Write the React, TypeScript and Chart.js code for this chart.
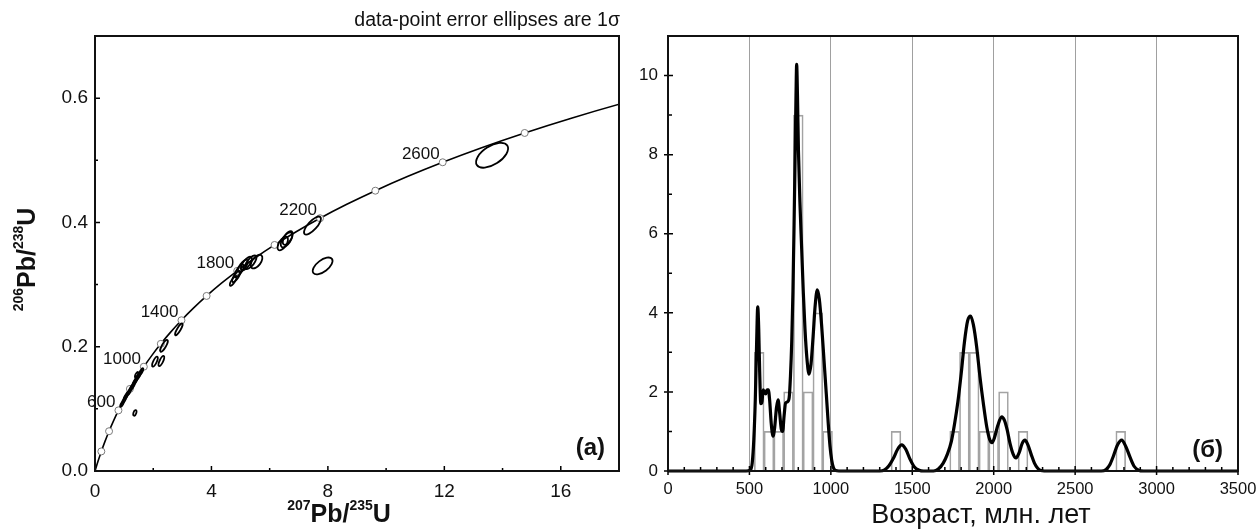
import React, { useEffect, useRef } from 'react';
import { Chart, registerables } from 'chart.js';

Chart.register(...registerables);

const FONT = '"Liberation Sans", Arial, sans-serif';

// ---------- Left panel: concordia diagram ----------
const concordiaAge = [0, 100, 200, 300, 400, 500, 600, 700, 800, 900, 1000, 1100, 1200, 1300, 1400, 1500, 1600, 1700, 1800, 1900, 2000, 2100, 2200, 2300, 2400, 2500, 2600, 2700, 2800, 2900, 3000, 3100];
const concordiaPb207U235 = [0, 0.1035, 0.2177, 0.3437, 0.4828, 0.6363, 0.8056, 0.9925, 1.1987, 1.4264, 1.6774, 1.9546, 2.2603, 2.5977, 2.97, 3.3809, 3.8344, 4.3347, 4.8869, 5.4961, 6.1685, 6.9104, 7.7291, 8.6325, 9.6296, 10.7305, 11.9438, 13.283, 14.7607, 16.391, 18.1906, 20.1796];
const concordiaPb206U238 = [0, 0.01563, 0.03151, 0.04764, 0.06401, 0.08065, 0.09754, 0.1147, 0.13213, 0.14982, 0.16781, 0.18607, 0.20461, 0.22344, 0.24257, 0.26199, 0.28172, 0.30176, 0.32211, 0.34278, 0.36377, 0.38509, 0.40675, 0.42874, 0.45107, 0.47376, 0.4968, 0.5202, 0.54397, 0.5681, 0.59262, 0.61752];
const markerAges = [200, 400, 600, 800, 1000, 1200, 1400, 1600, 1800, 2000, 2200, 2400, 2600, 2800];
const labelAges = [600, 1000, 1400, 1800, 2200, 2600];

const ellipseX = [13.64, 7.82, 7.47, 6.45, 6.58, 6.62, 5.55, 5.35, 5.2, 5.08, 4.95, 4.85, 4.75, 2.88, 2.37, 2.06, 2.28, 0.93, 1.0, 1.05, 1.1, 1.17, 1.24, 1.3, 1.35, 1.4, 1.45, 1.5, 1.55, 1.6, 1.43, 1.37];
const ellipseY = [0.508, 0.33, 0.395, 0.366, 0.372, 0.375, 0.337, 0.336, 0.334, 0.33, 0.322, 0.313, 0.306, 0.228, 0.2015, 0.176, 0.177, 0.108, 0.114, 0.119, 0.123, 0.127, 0.133, 0.137, 0.142, 0.146, 0.15, 0.153, 0.157, 0.161, 0.155, 0.0935];
const ellipseSX = [0.55, 0.34, 0.29, 0.18, 0.2, 0.17, 0.2, 0.2, 0.19, 0.17, 0.16, 0.14, 0.12, 0.13, 0.13, 0.1, 0.1, 0.06, 0.06, 0.06, 0.06, 0.06, 0.06, 0.06, 0.06, 0.06, 0.06, 0.06, 0.06, 0.06, 0.06, 0.055];
const ellipseSY = [0.02, 0.0135, 0.0145, 0.011, 0.012, 0.011, 0.011, 0.011, 0.011, 0.01, 0.01, 0.009, 0.008, 0.0095, 0.0095, 0.008, 0.008, 0.0045, 0.0045, 0.0045, 0.0045, 0.0045, 0.0045, 0.0045, 0.0045, 0.0045, 0.0045, 0.0045, 0.0045, 0.0045, 0.0045, 0.0045];
const ellipseRho = [0.55, 0.6, 0.75, 0.6, 0.6, 0.6, 0.55, 0.7, 0.7, 0.7, 0.75, 0.75, 0.8, 0.85, 0.8, 0.75, 0.75, 0.7, 0.7, 0.7, 0.7, 0.7, 0.7, 0.7, 0.7, 0.7, 0.7, 0.7, 0.7, 0.7, 0.7, 0.4];

const leftXTickLabels = [0, 4, 8, 12, 16];
const leftYTickLabels = [0, 0.2, 0.4, 0.6];

// ---------- Right panel: age histogram + density ----------
const binCenters = [560, 620, 680, 740, 800, 860, 920, 980, 1400, 1760, 1820, 1880, 1940, 2000, 2060, 2180, 2780];
const binCounts = [3, 1, 1, 2, 9, 2, 4, 1, 1, 1, 3, 3, 1, 1, 2, 1, 1];

const kdeAge = [0, 480, 505, 517, 527, 536, 544, 551, 557, 563, 570, 577, 584, 592, 600, 608, 616, 624, 634, 645, 655, 666, 676, 686, 696, 704, 713, 722, 734, 744, 752, 760, 767, 774, 781, 786, 790, 795, 801, 810, 821, 831, 841, 853, 866, 878, 891, 904, 917, 929, 943, 958, 972, 984, 995, 1005, 1016, 1030, 1050, 1300, 1330, 1358, 1384, 1410, 1435, 1460, 1486, 1513, 1542, 1570, 1630, 1660, 1690, 1715, 1740, 1760, 1780, 1800, 1820, 1840, 1858, 1875, 1895, 1915, 1936, 1958, 1975, 1990, 2005, 2025, 2049, 2066, 2082, 2100, 2120, 2137, 2155, 2175, 2192, 2210, 2230, 2250, 2270, 2290, 2310, 2660, 2690, 2712, 2735, 2760, 2786, 2811, 2837, 2862, 2890, 2920, 3500];
const kdeValue = [0, 0, 0.02, 0.2, 0.8, 1.8, 3.2, 4.15, 3.6, 2.5, 1.7, 1.75, 2.05, 2.0, 1.95, 2.05, 2.05, 1.8, 1.2, 0.88, 1.1, 1.6, 1.8, 1.45, 1.05, 1.0, 1.4, 1.72, 1.75, 1.85, 2.4, 3.3, 4.5, 6.2, 8.1, 9.5, 10.28, 9.5, 8.1, 6.8, 5.6, 4.5, 3.6, 2.85, 2.45, 2.7, 3.4, 4.2, 4.58, 4.35, 3.7, 2.8, 1.95, 1.2, 0.62, 0.28, 0.08, 0.01, 0, 0, 0.03, 0.14, 0.32, 0.55, 0.66, 0.55, 0.3, 0.1, 0.02, 0, 0, 0.05, 0.2, 0.42, 0.75, 1.2, 1.75, 2.45, 3.25, 3.8, 3.92, 3.7, 3.15, 2.4, 1.72, 1.1, 0.8, 0.72, 0.85, 1.15, 1.37, 1.28, 1.05, 0.7, 0.42, 0.33, 0.45, 0.7, 0.78, 0.66, 0.42, 0.2, 0.07, 0.01, 0, 0, 0.04, 0.15, 0.38, 0.66, 0.78, 0.62, 0.35, 0.12, 0.02, 0, 0];

const rightXTickLabels = [0, 500, 1000, 1500, 2000, 2500, 3000, 3500];
const rightYTickLabels = [0, 2, 4, 6, 8, 10];
const gridAges = [500, 1000, 1500, 2000, 2500, 3000];

const hasLabel = (list: number[], v: number) => list.some((l) => Math.abs(l - v) < 1e-6);

const fixX = (h: number) => (s: any) => {
  s.height = h;
  s.paddingLeft = 0;
  s.paddingRight = 0;
};
const fixY = (w: number) => (s: any) => {
  s.width = w;
  s.paddingTop = 0;
  s.paddingBottom = 0;
};

function framePlugin(o: { major: number; minor: number; out: number }) {
  return {
    id: 'frame',
    afterDraw(chart: any) {
      const { ctx, chartArea: a, scales } = chart;
      ctx.save();
      ctx.strokeStyle = '#000';
      ctx.lineWidth = 1.5;
      ctx.beginPath();
      for (const t of scales.x.ticks) {
        const px = scales.x.getPixelForValue(t.value);
        const major = t.label !== '' && t.label != null;
        ctx.moveTo(px, a.bottom + (major ? o.out : 0));
        ctx.lineTo(px, a.bottom - (major ? o.major : o.minor));
      }
      for (const t of scales.y.ticks) {
        const py = scales.y.getPixelForValue(t.value);
        const major = t.label !== '' && t.label != null;
        ctx.moveTo(a.left - (major ? o.out : 0), py);
        ctx.lineTo(a.left + (major ? o.major : o.minor), py);
      }
      ctx.stroke();
      ctx.lineWidth = 2;
      ctx.strokeStyle = '#111';
      ctx.strokeRect(a.left, a.top, a.right - a.left, a.bottom - a.top);
      ctx.restore();
    },
  };
}

function drawIsotopeLabel(ctx: CanvasRenderingContext2D, parts: [string, boolean][], big: number, small: number, raise: number) {
  const bigFont = `bold ${big}px ${FONT}`;
  const smallFont = `bold ${small}px ${FONT}`;
  let total = 0;
  for (const [txt, sup] of parts) {
    ctx.font = sup ? smallFont : bigFont;
    total += ctx.measureText(txt).width;
  }
  let x = -total / 2;
  ctx.textAlign = 'left';
  ctx.textBaseline = 'alphabetic';
  for (const [txt, sup] of parts) {
    ctx.font = sup ? smallFont : bigFont;
    ctx.fillText(txt, x, sup ? -raise : 0);
    x += ctx.measureText(txt).width;
  }
}

const ellipsePlugin = {
  id: 'ellipses',
  afterDatasetsDraw(chart: any) {
    const { ctx, chartArea: a, scales } = chart;
    const xs = scales.x;
    const ys = scales.y;
    const kx = Math.abs(xs.getPixelForValue(1) - xs.getPixelForValue(0));
    const ky = Math.abs(ys.getPixelForValue(0.1) - ys.getPixelForValue(0)) * 10;
    ctx.save();
    ctx.beginPath();
    ctx.rect(a.left, a.top, a.right - a.left, a.bottom - a.top);
    ctx.clip();
    ctx.strokeStyle = '#000';
    ctx.lineWidth = 1.8;
    for (let i = 0; i < ellipseX.length; i++) {
      const cx = xs.getPixelForValue(ellipseX[i]);
      const cy = ys.getPixelForValue(ellipseY[i]);
      const ax = ellipseSX[i] * kx;
      const by = ellipseSY[i] * ky;
      const A = ax * ax;
      const C = by * by;
      const B = -ellipseRho[i] * ax * by;
      const mid = (A + C) / 2;
      const d = Math.sqrt(((A - C) / 2) ** 2 + B * B);
      const l1 = mid + d;
      const l2 = Math.max(mid - d, 0.01);
      const th = 0.5 * Math.atan2(2 * B, A - C);
      ctx.beginPath();
      ctx.ellipse(cx, cy, Math.sqrt(l1), Math.sqrt(l2), th, 0, Math.PI * 2);
      ctx.stroke();
    }
    ctx.restore();
  },
};

const concordiaTextPlugin = {
  id: 'concordiaText',
  afterDraw(chart: any) {
    const { ctx, chartArea: a, scales } = chart;
    ctx.save();
    ctx.fillStyle = '#111';
    ctx.font = `17px ${FONT}`;
    ctx.textAlign = 'right';
    ctx.textBaseline = 'alphabetic';
    for (const age of labelAges) {
      const i = concordiaAge.indexOf(age);
      const px = scales.x.getPixelForValue(concordiaPb207U235[i]);
      const py = scales.y.getPixelForValue(concordiaPb206U238[i]);
      ctx.fillText(String(age), px - 3, py - 3);
    }
    // note above the plot
    ctx.font = `19.5px ${FONT}`;
    ctx.textAlign = 'right';
    ctx.fillText('data-point error ellipses are 1σ', a.right + 1, a.top - 10);
    // panel letter
    ctx.font = `bold 24px ${FONT}`;
    ctx.fillText('(a)', a.right - 14, a.bottom - 16);
    // x title
    ctx.save();
    ctx.translate((a.left + a.right) / 2 - 18, 522);
    drawIsotopeLabel(ctx, [['207', true], ['Pb/', false], ['235', true], ['U', false]], 25, 14, 12);
    ctx.restore();
    // y title
    ctx.save();
    ctx.translate(35, (a.top + a.bottom) / 2 + 6);
    ctx.rotate(-Math.PI / 2);
    drawIsotopeLabel(ctx, [['206', true], ['Pb/', false], ['238', true], ['U', false]], 25, 14, 12);
    ctx.restore();
    ctx.restore();
  },
};

const histTextPlugin = {
  id: 'histText',
  afterDraw(chart: any) {
    const { ctx, chartArea: a } = chart;
    ctx.save();
    ctx.fillStyle = '#111';
    ctx.font = `bold 24px ${FONT}`;
    ctx.textAlign = 'right';
    ctx.textBaseline = 'alphabetic';
    ctx.fillText('(б)', a.right - 15, a.bottom - 14);
    ctx.font = `27px ${FONT}`;
    ctx.textAlign = 'center';
    ctx.fillText('Возраст, млн. лет', (a.left + a.right) / 2 + 28, 523);
    ctx.restore();
  },
};

function ConcordiaChart() {
  const ref = useRef<HTMLCanvasElement>(null);
  useEffect(() => {
    if (!ref.current) return;
    const curve = concordiaAge.map((_, i) => ({ x: concordiaPb207U235[i], y: concordiaPb206U238[i] }));
    const markers = markerAges.map((age) => {
      const i = concordiaAge.indexOf(age);
      return { x: concordiaPb207U235[i], y: concordiaPb206U238[i] };
    });
    const chart = new Chart(ref.current, {
      type: 'scatter',
      data: {
        datasets: [
          {
            data: markers,
            showLine: false,
            pointRadius: 3.5,
            pointBackgroundColor: '#ffffff',
            pointBorderColor: '#7a7a7a',
            pointBorderWidth: 1,
            order: 1,
          } as any,
          {
            data: curve,
            showLine: true,
            pointRadius: 0,
            borderColor: '#000',
            borderWidth: 1.6,
            cubicInterpolationMode: 'monotone',
            order: 2,
          } as any,
        ],
      },
      options: {
        animation: false,
        responsive: true,
        maintainAspectRatio: false,
        layout: { padding: { left: 0, right: 21, top: 36, bottom: 0 } },
        plugins: { legend: { display: false }, tooltip: { enabled: false } },
        scales: {
          x: {
            type: 'linear',
            min: 0,
            max: 18,
            grid: { display: false, drawTicks: false },
            border: { display: false },
            ticks: {
              stepSize: 2,
              autoSkip: false,
              maxRotation: 0,
              padding: 9,
              color: '#111',
              font: { family: FONT, size: 19 },
              callback: (v: any) => (hasLabel(leftXTickLabels, Number(v)) ? String(v) : ''),
            },
            afterFit: fixX(58),
          },
          y: {
            type: 'linear',
            min: 0,
            max: 0.7,
            grid: { display: false, drawTicks: false },
            border: { display: false },
            ticks: {
              stepSize: 0.1,
              autoSkip: false,
              padding: 7,
              color: '#111',
              font: { family: FONT, size: 19 },
              callback: (v: any) => (hasLabel(leftYTickLabels, Number(v)) ? Number(v).toFixed(1) : ''),
            },
            afterFit: fixY(95),
          },
        },
      },
      plugins: [ellipsePlugin, framePlugin({ major: 5, minor: 3, out: 0 }), concordiaTextPlugin],
    });
    return () => chart.destroy();
  }, []);
  return <canvas ref={ref} />;
}

function AgeChart() {
  const ref = useRef<HTMLCanvasElement>(null);
  useEffect(() => {
    if (!ref.current) return;
    const bars = binCenters.map((x, i) => ({ x, y: binCounts[i] }));
    const kde = kdeAge.map((x, i) => ({ x, y: kdeValue[i] }));
    const chart = new Chart(ref.current, {
      type: 'bar',
      data: {
        datasets: [
          {
            type: 'line',
            data: kde,
            borderColor: '#000',
            borderWidth: 3.2,
            pointRadius: 0,
            cubicInterpolationMode: 'monotone',
            clip: false,
            order: 1,
          } as any,
          {
            type: 'bar',
            data: bars,
            backgroundColor: 'rgba(255,255,255,0)',
            borderColor: '#a3a3a3',
            borderWidth: 1,
            barPercentage: 1,
            categoryPercentage: 1,
            order: 2,
          } as any,
        ],
      },
      options: {
        animation: false,
        responsive: true,
        maintainAspectRatio: false,
        layout: { padding: { left: 0, right: 18, top: 36, bottom: 0 } },
        plugins: { legend: { display: false }, tooltip: { enabled: false } },
        scales: {
          x: {
            type: 'linear',
            min: 0,
            max: 3500,
            offset: false,
            grid: {
              display: true,
              drawTicks: false,
              offset: false,
              lineWidth: 1,
              color: (c: any) => (c.tick && hasLabel(gridAges, c.tick.value) ? '#a0a0a0' : 'rgba(0,0,0,0)'),
            },
            border: { display: false },
            ticks: {
              stepSize: 100,
              autoSkip: false,
              maxRotation: 0,
              padding: 9,
              color: '#111',
              font: { family: FONT, size: 16.5 },
              callback: (v: any) => (hasLabel(rightXTickLabels, Number(v)) ? String(v) : ''),
            },
            afterFit: fixX(58),
          },
          y: {
            type: 'linear',
            min: 0,
            max: 11,
            grid: { display: false, drawTicks: false },
            border: { display: false },
            ticks: {
              stepSize: 1,
              autoSkip: false,
              padding: 10,
              color: '#111',
              font: { family: FONT, size: 17 },
              callback: (v: any) => (hasLabel(rightYTickLabels, Number(v)) ? String(v) : ''),
            },
            afterFit: fixY(28),
          },
        },
      },
      plugins: [framePlugin({ major: 5, minor: 4, out: 4 }), histTextPlugin],
    });
    return () => chart.destroy();
  }, []);
  return <canvas ref={ref} />;
}

export default function App() {
  return (
    <div style={{ position: 'absolute', left: 0, top: 0, width: 1256, height: 529, background: '#fff' }}>
      <div style={{ position: 'absolute', left: 0, top: 0, width: 640, height: 529 }}>
        <ConcordiaChart />
      </div>
      <div style={{ position: 'absolute', left: 640, top: 0, width: 616, height: 529 }}>
        <AgeChart />
      </div>
    </div>
  );
}
